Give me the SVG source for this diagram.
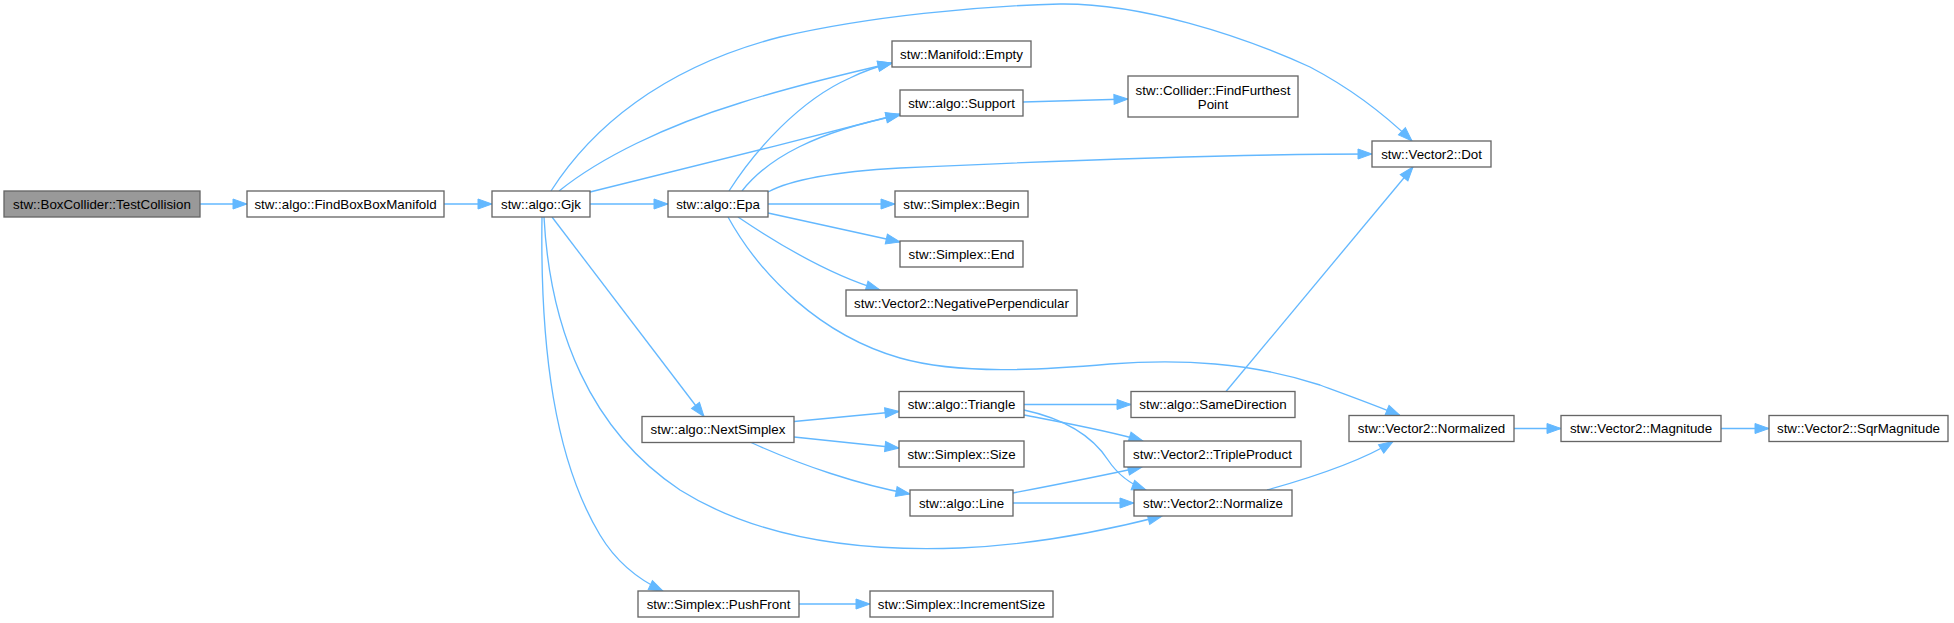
<svg xmlns="http://www.w3.org/2000/svg" width="1954" height="623" viewBox="0 0 1954 623">
<style>
  .n rect { fill: #ffffff; stroke: #666666; stroke-width: 1.33; }
  .n.root rect { fill: #999999; }
  .n text { font-family: "Liberation Sans", Arial, Helvetica, sans-serif; font-size: 13.33px; fill: #000000; text-anchor: middle; }
  .e path { fill: none; stroke: #63b8ff; stroke-width: 1.33; marker-end: url(#ah); }
</style>
<defs>
  <marker id="ah" markerUnits="userSpaceOnUse" markerWidth="15" markerHeight="11" refX="14" refY="5" orient="auto" overflow="visible">
    <path d="M0,0 L14,5 L0,10 Z" fill="#63b8ff" stroke="#63b8ff" stroke-width="1"/>
  </marker>
</defs>
<rect width="1954" height="623" fill="#ffffff"/>
<g id="edges" class="e">
  <path d="M200,204 L247,204"/>
  <path d="M444,204 L492,204"/>
  <path d="M551,191 C590,130 660,68 780,37 C870,16 980,6 1060,4 C1140,3 1240,35 1310,67 C1350,88 1382,112 1412,141"/>
  <path d="M559,191 C600,158 665,126 740,103 C790,87 840,75 892,63"/>
  <path d="M590,192 C680,170 800,140 900,114"/>
  <path d="M590,204 L668,204"/>
  <path d="M552,217 L704,416.5"/>
  <path d="M544,217 C550,330 590,430 680,490 C760,540 860,552 960,548 C1030,545 1100,532 1162,516"/>
  <path d="M542,217 C540,350 555,460 600,535 C615,560 635,578 663,591"/>
  <path d="M729,191 C755,150 800,100 850,78 C862,72 875,67 892,63"/>
  <path d="M742,191 C768,158 815,132 900,115"/>
  <path d="M768,192 C790,180 830,172 900,168 C1050,161 1250,154 1372,154"/>
  <path d="M768,204 L895,204"/>
  <path d="M768,213 L900,242"/>
  <path d="M738,217 C775,242 830,275 880,290"/>
  <path d="M728,217 C760,275 820,335 900,358 C960,375 1040,370 1110,364 C1180,359 1250,362 1320,385 C1350,396 1375,405 1400,415.5"/>
  <path d="M1023,102 L1128,99"/>
  <path d="M794,421.5 L899,411.5"/>
  <path d="M794,437 L899,448"/>
  <path d="M750,442 C800,465 860,485 910,494"/>
  <path d="M1024,404.5 L1131,404.5"/>
  <path d="M1024,415 C1060,422 1110,431 1143,441"/>
  <path d="M1024,410 C1070,420 1095,440 1108,460 C1118,475 1130,484 1146,490"/>
  <path d="M1013,493 C1060,484 1110,474 1142,467"/>
  <path d="M1013,503 L1134,503"/>
  <path d="M1226,391.5 L1413,167"/>
  <path d="M1267,490 C1310,478 1360,462 1393,441.5"/>
  <path d="M1514,428.5 L1561,428.5"/>
  <path d="M1721,428.5 L1769,428.5"/>
  <path d="M799,604 L870,604"/>
</g>
<g id="node_TestCollision" class="n root"><rect x="4" y="191" width="196" height="26"/><text x="102" y="208.7">stw::BoxCollider::TestCollision</text></g>
<g id="node_FindBoxBoxManifold" class="n"><rect x="247" y="191" width="197" height="26"/><text x="345.5" y="208.7">stw::algo::FindBoxBoxManifold</text></g>
<g id="node_Gjk" class="n"><rect x="492" y="191" width="98" height="26"/><text x="541" y="208.7">stw::algo::Gjk</text></g>
<g id="node_Epa" class="n"><rect x="668" y="191" width="100" height="26"/><text x="718" y="208.7">stw::algo::Epa</text></g>
<g id="node_Empty" class="n"><rect x="892" y="41" width="139" height="26"/><text x="961.5" y="58.7">stw::Manifold::Empty</text></g>
<g id="node_Support" class="n"><rect x="900" y="90" width="123" height="26"/><text x="961.5" y="107.7">stw::algo::Support</text></g>
<g id="node_FindFurthestPoint" class="n"><rect x="1128" y="76" width="170" height="41"/><text x="1213" y="94.5">stw::Collider::FindFurthest</text><text x="1213" y="109">Point</text></g>
<g id="node_Dot" class="n"><rect x="1372" y="141" width="119" height="26"/><text x="1431.5" y="158.7">stw::Vector2::Dot</text></g>
<g id="node_Begin" class="n"><rect x="895" y="191" width="133" height="26"/><text x="961.5" y="208.7">stw::Simplex::Begin</text></g>
<g id="node_End" class="n"><rect x="900" y="241" width="123" height="26"/><text x="961.5" y="258.7">stw::Simplex::End</text></g>
<g id="node_NegativePerpendicular" class="n"><rect x="846" y="290" width="231" height="26"/><text x="961.5" y="307.7">stw::Vector2::NegativePerpendicular</text></g>
<g id="node_NextSimplex" class="n"><rect x="642" y="416.5" width="152" height="26"/><text x="718" y="434.2">stw::algo::NextSimplex</text></g>
<g id="node_Triangle" class="n"><rect x="899" y="391.5" width="125" height="26"/><text x="961.5" y="409.2">stw::algo::Triangle</text></g>
<g id="node_Size" class="n"><rect x="899" y="441" width="125" height="26"/><text x="961.5" y="458.7">stw::Simplex::Size</text></g>
<g id="node_Line" class="n"><rect x="910" y="490" width="103" height="26"/><text x="961.5" y="507.7">stw::algo::Line</text></g>
<g id="node_SameDirection" class="n"><rect x="1131" y="391.5" width="164" height="26"/><text x="1213" y="409.2">stw::algo::SameDirection</text></g>
<g id="node_TripleProduct" class="n"><rect x="1124" y="441" width="177" height="26"/><text x="1212.5" y="458.7">stw::Vector2::TripleProduct</text></g>
<g id="node_Normalize" class="n"><rect x="1134" y="490" width="158" height="26"/><text x="1213" y="507.7">stw::Vector2::Normalize</text></g>
<g id="node_Normalized" class="n"><rect x="1349" y="415.5" width="165" height="26"/><text x="1431.5" y="433.2">stw::Vector2::Normalized</text></g>
<g id="node_Magnitude" class="n"><rect x="1561" y="415.5" width="160" height="26"/><text x="1641" y="433.2">stw::Vector2::Magnitude</text></g>
<g id="node_SqrMagnitude" class="n"><rect x="1769" y="415.5" width="179" height="26"/><text x="1858.5" y="433.2">stw::Vector2::SqrMagnitude</text></g>
<g id="node_PushFront" class="n"><rect x="638" y="591" width="161" height="26"/><text x="718.5" y="608.7">stw::Simplex::PushFront</text></g>
<g id="node_IncrementSize" class="n"><rect x="870" y="591" width="183" height="26"/><text x="961.5" y="608.7">stw::Simplex::IncrementSize</text></g>
</svg>
